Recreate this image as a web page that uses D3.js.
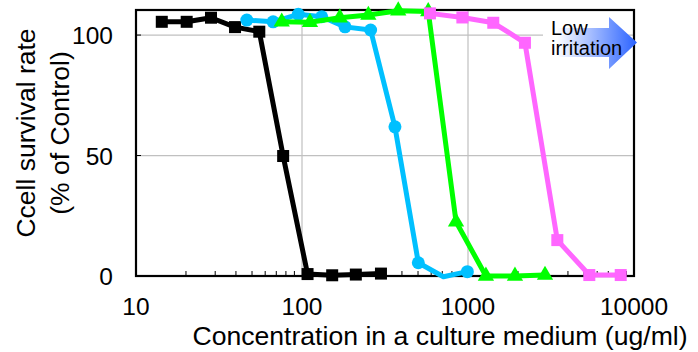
<!DOCTYPE html>
<html>
<head>
<meta charset="utf-8">
<script src="https://d3js.org/d3.v7.min.js"></script>
<style>
  body { margin: 0; background: #fff; }
  text { font-family: "Liberation Sans", Arial, sans-serif; fill: #000; }
</style>
</head>
<body>
<div id="chart"></div>
<script>
// concentration (ug/ml) and survival (% of control) for each sample
const blackX = [14.3, 20.2, 28.3, 39.5, 55.3, 77, 108, 152, 211, 299];
const blackY = [105.5, 105.5, 107.2, 103.3, 101.4, 49.8, 0.8, 0.3, 0.6, 1.0];

const cyanX = [46.5, 67, 95, 131.5, 181.6, 259, 363, 502, 711, 991];
const cyanY = [106.2, 105.5, 108.6, 107.6, 103.4, 102.1, 61.9, 5.5, -0.3, 1.8];

const greenX = [75.5, 111.7, 169, 251, 380, 576, 847, 1282, 1918, 2910];
const greenY = [105.5, 105.3, 107.2, 108.3, 110.1, 109.8, 22.5, 0, 0, 0.4];

const pinkX = [590, 925, 1420, 2203, 3452, 5380, 8318];
const pinkY = [109, 107.3, 105.1, 96.8, 14.9, 0.4, 0.4];

const xTicks = [10, 100, 1000, 10000];
const yTicks = [0, 50, 100];

const width = 698, height = 352;

const svg = d3.select("#chart").append("svg")
    .attr("width", width)
    .attr("height", height);

const x = d3.scaleLog().domain([10, 10000]).range([136, 634]);
const y = d3.scaleLinear().domain([0, 110.4]).range([276, 10]);

// gridlines
svg.append("g")
    .selectAll("line")
    .data([50, 100])
    .join("line")
    .attr("x1", x(10)).attr("x2", x(10000))
    .attr("y1", d => y(d)).attr("y2", d => y(d))
    .attr("stroke", "#c0c0c0").attr("stroke-width", 1.2);

svg.append("g")
    .selectAll("line")
    .data([100, 1000])
    .join("line")
    .attr("y1", y(0)).attr("y2", y(110.4))
    .attr("x1", d => x(d)).attr("x2", d => x(d))
    .attr("stroke", "#c0c0c0").attr("stroke-width", 1.2);

// minor ticks on the bottom axis, pointing inward
const minor = [];
[10, 100, 1000].forEach(dec => {
  for (let k = 2; k <= 9; k++) minor.push(dec * k);
});
svg.append("g")
    .selectAll("line")
    .data(minor)
    .join("line")
    .attr("x1", d => x(d)).attr("x2", d => x(d))
    .attr("y1", y(0)).attr("y2", y(0) - 5)
    .attr("stroke", "#000").attr("stroke-width", 1);

svg.append("g")
    .selectAll("line")
    .data(yTicks)
    .join("line")
    .attr("x1", x(10)).attr("x2", x(10) + 5)
    .attr("y1", d => y(d)).attr("y2", d => y(d))
    .attr("stroke", "#000").attr("stroke-width", 1);

// frame
svg.append("rect")
    .attr("x", x(10)).attr("y", y(110.4))
    .attr("width", x(10000) - x(10))
    .attr("height", y(0) - y(110.4))
    .attr("fill", "none")
    .attr("stroke", "#000")
    .attr("stroke-width", 2.2);

// tick labels
svg.append("g")
    .selectAll("text")
    .data(xTicks)
    .join("text")
    .attr("x", d => x(d))
    .attr("y", 315)
    .attr("text-anchor", "middle")
    .attr("font-size", 24.5)
    .text(d => d);

svg.append("g")
    .selectAll("text")
    .data(yTicks)
    .join("text")
    .attr("x", 113)
    .attr("y", d => y(d) + 9)
    .attr("text-anchor", "end")
    .attr("font-size", 24.5)
    .text(d => d);

// axis titles
svg.append("text")
    .attr("x", 440)
    .attr("y", 345)
    .attr("text-anchor", "middle")
    .attr("font-size", 26.6)
    .text("Concentration in a culture medium (ug/ml)");

const yTitle = svg.append("text")
    .attr("transform", "translate(0,133) rotate(-90)")
    .attr("text-anchor", "middle")
    .attr("font-size", 26.5);
yTitle.append("tspan").attr("x", 0).attr("y", 35).text("Ccell survival rate");
yTitle.append("tspan").attr("x", 0).attr("y", 69).text("(% of Control)");

// "Low irritation" arrow
const defs = svg.append("defs");
const grad = defs.append("linearGradient")
    .attr("id", "arrowGrad")
    .attr("x1", "0%").attr("x2", "100%")
    .attr("y1", "0%").attr("y2", "0%");
grad.append("stop").attr("offset", "0%").attr("stop-color", "#ffffff");
grad.append("stop").attr("offset", "15%").attr("stop-color", "#ffffff");
grad.append("stop").attr("offset", "100%").attr("stop-color", "#2a62ff");

svg.append("path")
    .attr("d", "M543,28 L609,28 L609,17 L637,42.5 L609,69 L609,57 L543,57 Z")
    .attr("fill", "url(#arrowGrad)");

svg.append("text").attr("x", 551).attr("y", 34.5).attr("font-size", 20).text("Low");
svg.append("text").attr("x", 551).attr("y", 54.5).attr("font-size", 20).text("irritation");

// series
const line = d3.line().x(d => x(d[0])).y(d => y(d[1]));
const lw = 5;

function drawSeries(xs, ys, color, shape) {
  const pts = xs.map((v, i) => [v, ys[i]]);
  svg.append("path")
      .datum(pts)
      .attr("d", line)
      .attr("fill", "none")
      .attr("stroke", color)
      .attr("stroke-width", lw)
      .attr("stroke-linejoin", "round");
  // points below zero had their marker hidden in the original
  const shown = pts.filter(d => d[1] >= 0);
  const g = svg.append("g").attr("fill", color);
  if (shape === "square") {
    g.selectAll("rect").data(shown).join("rect")
        .attr("x", d => x(d[0]) - 6).attr("y", d => y(d[1]) - 6)
        .attr("width", 12).attr("height", 12);
  } else if (shape === "circle") {
    g.selectAll("circle").data(shown).join("circle")
        .attr("cx", d => x(d[0])).attr("cy", d => y(d[1])).attr("r", 6.5);
  } else {
    g.selectAll("path").data(shown).join("path")
        .attr("d", d3.symbol(d3.symbolTriangle, 115))
        .attr("transform", d => `translate(${x(d[0])},${y(d[1])})`);
  }
}

drawSeries(blackX, blackY, "#000000", "square");
drawSeries(cyanX, cyanY, "#00c0ff", "circle");
drawSeries(greenX, greenY, "#00ff00", "triangle");
drawSeries(pinkX, pinkY, "#ff66ff", "square");
</script>
</body>
</html>
